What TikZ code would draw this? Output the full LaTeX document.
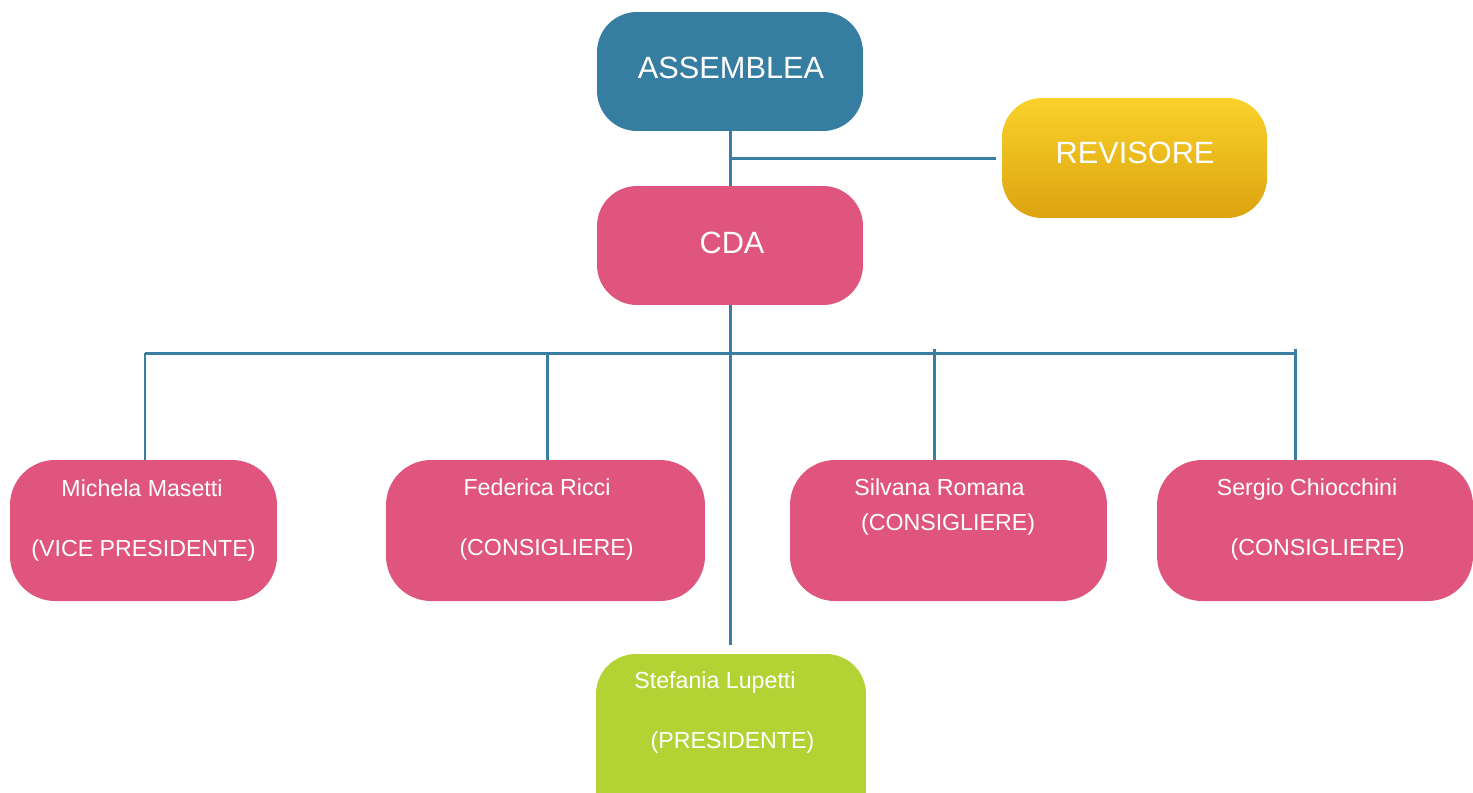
\documentclass[tikz,border=0pt]{standalone}
\usepackage{fontspec}
\setmainfont{Liberation Sans}

\definecolor{lineblue}{HTML}{3A7FA3}
\definecolor{assblue}{HTML}{367EA1}
\definecolor{cdapink}{HTML}{DF557E}
\definecolor{presgreen}{HTML}{B3D334}
\definecolor{revtop}{HTML}{FAD22B}
\definecolor{revbot}{HTML}{DCA30F}

\tikzset{
  box/.style={rectangle, rounded corners=0.8cm, inner sep=0pt},
  smallbox/.style={box, rounded corners=0.9cm, fill=cdapink, minimum height=2.82cm},
  conn/.style={draw=lineblue, line width=1.7pt},
  title/.style={text=white, inner sep=0pt, anchor=base, font=\fontsize{17.5}{20}\selectfont},
  lbl/.style={text=white, inner sep=0pt, anchor=base, font=\fontsize{13.2}{15}\selectfont}
}

\begin{document}
\begin{tikzpicture}[x=0.02cm, y=-0.02cm]
    \useasboundingbox (0,0) rectangle (1473,792);

    \node[box, fill=assblue, minimum width=5.32cm, minimum height=2.38cm] (assemblea) at (730,71.5) {};
    \node[box, top color=revtop, bottom color=revbot, minimum width=5.3cm, minimum height=2.4cm] (revisore) at (1134.5,158) {};
    \node[box, fill=cdapink, minimum width=5.32cm, minimum height=2.38cm] (cda) at (730,245.5) {};

    \node[smallbox, minimum width=5.34cm] (michela) at (143.5,530.5) {};
    \node[smallbox, minimum width=6.38cm] (federica) at (545.5,530.5) {};
    \node[smallbox, minimum width=6.34cm] (silvana) at (948.5,530.5) {};
    \node[smallbox, minimum width=6.32cm] (sergio) at (1315,530.5) {};
    \node[box, rounded corners=0.8cm, fill=presgreen, minimum width=5.4cm, minimum height=3.6cm] (stefania) at (731,744) {};

    \node[title] (assemblea-t) at (731,78) {ASSEMBLEA};
    \node[title] (revisore-t) at (1135,163) {REVISORE};
    \node[title] (cda-t) at (732,253) {CDA};

    \node[lbl] (michela-n) at (142,496) {Michela Masetti};
    \node[lbl] (michela-r) at (143.5,556) {(VICE PRESIDENTE)};
    \node[lbl] (federica-n) at (537,495) {Federica Ricci};
    \node[lbl] (federica-r) at (546.5,555) {(CONSIGLIERE)};
    \node[lbl] (silvana-n) at (939.5,495) {Silvana Romana};
    \node[lbl] (silvana-r) at (948,530) {(CONSIGLIERE)};
    \node[lbl] (sergio-n) at (1307,495) {Sergio Chiocchini};
    \node[lbl] (sergio-r) at (1317.5,555) {(CONSIGLIERE)};
    \node[lbl] (stefania-n) at (715,688) {Stefania Lupetti};
    \node[lbl] (stefania-r) at (732.5,748) {(PRESIDENTE)};

    \coordinate (rev) at (730,158);
    \coordinate (busl) at (145,353);
    \coordinate (busr) at (1295,353);
    \coordinate (b2) at (547,353);
    \coordinate (b3) at (934,349);
    \coordinate (b4) at (1295,349);

    \draw[conn] (assemblea) -- (cda);
    \draw[conn, shorten >=0.12cm] (rev) -- (revisore.west);
    \draw[conn, shorten >=0.18cm] (cda.south) -- (cda.south |- stefania.north);
    \draw[conn] (busl) -- (busr);
    \draw[conn] (busl) -- (busl |- michela.north);
    \draw[conn] (b2) -- (b2 |- federica.north);
    \draw[conn] (b3) -- (b3 |- silvana.north);
    \draw[conn] (b4) -- (b4 |- sergio.north);
  \end{tikzpicture}
\end{document}
